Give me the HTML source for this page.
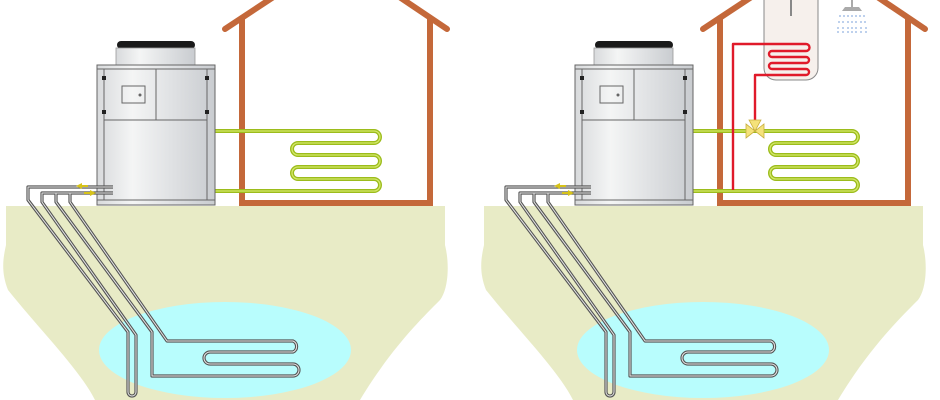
<!DOCTYPE html>
<html><head><style>html,body{margin:0;padding:0;background:#fff}svg{display:block}</style></head>
<body>
<svg width="940" height="400" viewBox="0 0 940 400" xmlns="http://www.w3.org/2000/svg">
<defs>
<linearGradient id="hp" x1="0" x2="1"><stop offset="0" stop-color="#d8dadc"/><stop offset="0.3" stop-color="#f4f5f5"/><stop offset="1" stop-color="#c9ccd0"/></linearGradient>
<g id="panel">
  <!-- ground -->
  <path d="M6,206 H445 V245 C450,265 448,290 440,300 C420,320 390,350 360,400 H95 C80,370 40,330 8,290 C0,270 4,255 6,245 Z" fill="#e8ebc6"/>
  <ellipse cx="225" cy="350" rx="126" ry="48" fill="#b8fdfd"/>
  <!-- house -->
  <g fill="none" stroke="#c4683a" stroke-width="6" stroke-linecap="round">
    <path d="M225,29 L337,-45 L447,29"/>
    <path d="M242,18 V203 H430 V18"/>
  </g>
  <!-- green coil -->
  <g fill="none" stroke-linejoin="round">
    <path d="M215,131 H374 a6,6 0 0 1 0,12 H298 a6,6 0 0 0 0,12 H374 a6,6 0 0 1 0,12 H298 a6,6 0 0 0 0,12 H374 a6,6 0 0 1 0,12 H215" stroke="#9cbc1c" stroke-width="4"/>
    <path d="M215,131 H374 a6,6 0 0 1 0,12 H298 a6,6 0 0 0 0,12 H374 a6,6 0 0 1 0,12 H298 a6,6 0 0 0 0,12 H374 a6,6 0 0 1 0,12 H215" stroke="#d4e86a" stroke-width="1.3"/>
  </g>
  <!-- heat pump -->
  <rect x="117" y="41" width="78" height="8" rx="4" fill="#1a1a1a"/>
  <rect x="116" y="48" width="79" height="17" fill="url(#hp)" stroke="#999" stroke-width="0.8"/>
  <rect x="97" y="65" width="118" height="140" fill="url(#hp)" stroke="#666" stroke-width="1"/>
  <g stroke="#666" stroke-width="1" fill="none">
    <path d="M97,69 H215 M104,69 V200 M207,69 V200 M104,120 H207 M156,69 V120 M97,200 H215"/>
    <rect x="122" y="86" width="23" height="17"/>
  </g>
  <circle cx="140" cy="95" r="1.5" fill="#666"/>
  <g fill="#222"><rect x="102" y="76" width="4" height="4"/><rect x="102" y="110" width="4" height="4"/><rect x="205" y="76" width="4" height="4"/><rect x="205" y="110" width="4" height="4"/></g>
  <!-- ground pipes -->
  <g fill="none" stroke-linejoin="round">
    <g stroke="#555" stroke-width="3.2">
      <path d="M113,187 H28 V200 L128,332 V392 a4,4 0 0 0 8,0 V335 L42,202 V193 H113"/>
      <path d="M56,193 V202 L152,332 V376 H293 a6,6 0 0 0 0,-12 H210 a6,6 0 0 1 0,-12 H293 a6,6 0 0 0 0,-11 H167 L70,202 V193"/>
    </g>
    <g stroke="#e8e8e8" stroke-width="1">
      <path d="M113,187 H28 V200 L128,332 V392 a4,4 0 0 0 8,0 V335 L42,202 V193 H113"/>
      <path d="M56,193 V202 L152,332 V376 H293 a6,6 0 0 0 0,-12 H210 a6,6 0 0 1 0,-12 H293 a6,6 0 0 0 0,-11 H167 L70,202 V193"/>
    </g>
  </g>
  <path d="M76,186 l6,-3 v6 z M96,193 l-6,-3 v6 z" fill="#d6c21a"/>
  <path d="M82,186 H88 M84,193 H90" stroke="#d6c21a" stroke-width="2"/>
</g>
</defs>
<use href="#panel"/>
<use href="#panel" transform="translate(478,0)"/>
<!-- tank -->
<path d="M764,-2 H818 V68 a12,12 0 0 1 -12,12 H776 a12,12 0 0 1 -12,-12 Z" fill="#f6f0ec" stroke="#888" stroke-width="1"/>
<path d="M791,0 V16" stroke="#888" stroke-width="2"/>
<!-- red pipes -->
<g fill="none" stroke="#e01a2a" stroke-width="2.4" stroke-linejoin="round">
  <path d="M733,190 V44 H806 a3,3 0 0 1 0,7 H772 a3,3 0 0 0 0,6 H806 a3,3 0 0 1 0,6 H772 a3,3 0 0 0 0,6 H806 a3,3 0 0 1 0,6 H755 V124"/>
</g>
<!-- valve -->
<path d="M746,124 L764,138 V124 L746,138 Z" fill="#f5e27a" stroke="#c9b040" stroke-width="0.8"/>
<path d="M755,131 L749,120 H761 Z" fill="#f5e27a" stroke="#c9b040" stroke-width="0.8"/>
<!-- shower -->
<path d="M845,7 H859 L862,11 H842 Z" fill="#aaa"/>
<path d="M852,0 V7" stroke="#aaa" stroke-width="2"/>
<g fill="#8fb0e0">
  <circle cx="840" cy="16" r="0.9"/><circle cx="844" cy="16" r="0.9"/><circle cx="848" cy="16" r="0.9"/><circle cx="852" cy="16" r="0.9"/><circle cx="856" cy="16" r="0.9"/><circle cx="860" cy="16" r="0.9"/><circle cx="864" cy="16" r="0.9"/>
  <circle cx="839" cy="22" r="0.9"/><circle cx="843" cy="22" r="0.9"/><circle cx="848" cy="22" r="0.9"/><circle cx="852" cy="22" r="0.9"/><circle cx="856" cy="22" r="0.9"/><circle cx="861" cy="22" r="0.9"/><circle cx="865" cy="22" r="0.9"/>
  <circle cx="838" cy="28" r="0.9"/><circle cx="843" cy="28" r="0.9"/><circle cx="848" cy="28" r="0.9"/><circle cx="852" cy="28" r="0.9"/><circle cx="856" cy="28" r="0.9"/><circle cx="861" cy="28" r="0.9"/><circle cx="866" cy="28" r="0.9"/>
  <circle cx="838" cy="32" r="0.9"/><circle cx="843" cy="32" r="0.9"/><circle cx="848" cy="32" r="0.9"/><circle cx="852" cy="32" r="0.9"/><circle cx="856" cy="32" r="0.9"/><circle cx="861" cy="32" r="0.9"/><circle cx="866" cy="32" r="0.9"/>
</g>
</svg>
</body></html>
